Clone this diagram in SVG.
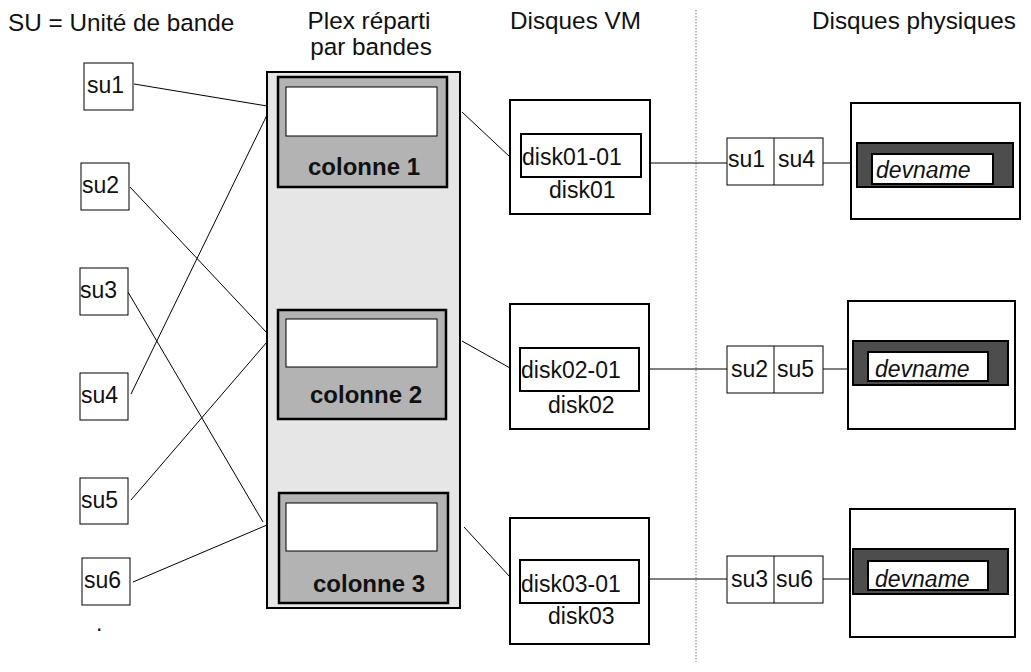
<svg xmlns="http://www.w3.org/2000/svg" width="1031" height="672" viewBox="0 0 1031 672">
<style>
text{font-family:"Liberation Sans",Arial,sans-serif;font-size:23px;fill:#111}
.t{font-size:24.3px}
.b{font-weight:bold;font-size:24px}
.i{font-style:italic}
.thin{fill:#fff;stroke:#000;stroke-width:1}
.thick{fill:#fff;stroke:#000;stroke-width:2}
.plex{fill:#e6e6e6;stroke:#000;stroke-width:2}
.col{fill:#b3b3b3;stroke:#000;stroke-width:2.5}
.dark{fill:#4d4d4d;stroke:#000;stroke-width:2}
.ln{stroke:#000;stroke-width:1;fill:none}
</style>
<g id="titles">
<text class="t" x="8" y="31">SU = Unité de bande</text>
<text class="t" x="369" y="29" text-anchor="middle">Plex réparti</text>
<text class="t" x="371" y="55" text-anchor="middle">par bandes</text>
<text class="t" x="510" y="29">Disques VM</text>
<text class="t" x="812" y="29">Disques physiques</text>
</g>
<line x1="696" y1="10" x2="696" y2="662" stroke="#777" stroke-width="1" stroke-dasharray="1.5,1.5"/>
<g id="connectors">
<line class="ln" x1="134" y1="84" x2="267" y2="106"/>
<line class="ln" x1="130" y1="187" x2="267" y2="333"/>
<line class="ln" x1="128" y1="292" x2="263" y2="522"/>
<line class="ln" x1="131" y1="394" x2="267" y2="115"/>
<line class="ln" x1="131" y1="500" x2="267" y2="342"/>
<line class="ln" x1="133" y1="582" x2="267" y2="525"/>
<line class="ln" x1="462" y1="112" x2="510" y2="157"/>
<line class="ln" x1="462" y1="341" x2="510" y2="368"/>
<line class="ln" x1="464" y1="527" x2="510" y2="577"/>
<line class="ln" x1="650" y1="163" x2="727" y2="163"/>
<line class="ln" x1="823" y1="163" x2="851" y2="163"/>
<line class="ln" x1="649" y1="369" x2="727" y2="369"/>
<line class="ln" x1="823" y1="369" x2="848" y2="369"/>
<line class="ln" x1="649" y1="579" x2="727" y2="579"/>
<line class="ln" x1="823" y1="579" x2="850" y2="579"/>
</g>
<g id="su1"><rect class="thin" x="84" y="63" width="49" height="47"/><text x="87" y="93">su1</text></g>
<g id="su2"><rect class="thin" x="81" y="163" width="48" height="47"/><text x="82" y="193">su2</text></g>
<g id="su3"><rect class="thin" x="80" y="268" width="48" height="47"/><text x="80" y="298">su3</text></g>
<g id="su4"><rect class="thin" x="80" y="373" width="48" height="47"/><text x="81" y="403">su4</text></g>
<g id="su5"><rect class="thin" x="80" y="478" width="48" height="46"/><text x="81" y="508">su5</text></g>
<g id="su6"><rect class="thin" x="82" y="558" width="48" height="47"/><text x="84" y="588">su6</text></g>
<text x="96" y="631">.</text>
<g id="plex">
<rect class="plex" x="267" y="72" width="193" height="536"/>
<g id="colonne1"><rect class="col" x="278" y="77" width="169" height="110"/><rect class="thin" x="286" y="87" width="151" height="49"/><text class="b" x="308" y="175">colonne 1</text></g>
<g id="colonne2"><rect class="col" x="278" y="310" width="168" height="109"/><rect class="thin" x="286" y="319" width="151" height="48"/><text class="b" x="310" y="403">colonne 2</text></g>
<g id="colonne3"><rect class="col" x="279" y="493" width="169" height="110"/><rect class="thin" x="286" y="503" width="151" height="48"/><text class="b" x="313" y="592">colonne 3</text></g>
</g>
<g id="disk01"><rect class="thick" x="510" y="100" width="140" height="114"/><rect class="thick" x="521" y="134" width="120" height="43"/><text x="522" y="165">disk01-01</text><text x="549" y="198">disk01</text></g>
<g id="disk02"><rect class="thick" x="510" y="304" width="139" height="125"/><rect class="thick" x="520" y="348" width="119" height="43"/><text x="521" y="378">disk02-01</text><text x="548" y="413">disk02</text></g>
<g id="disk03"><rect class="thick" x="510" y="518" width="139" height="126"/><rect class="thick" x="520" y="560" width="119" height="43"/><text x="521" y="592">disk03-01</text><text x="548" y="624">disk03</text></g>
<g id="supair1"><rect class="thin" x="727" y="138" width="96" height="47"/><line class="ln" x1="774" y1="138" x2="774" y2="185"/><text x="728" y="167">su1</text><text x="778" y="167">su4</text></g>
<g id="supair2"><rect class="thin" x="727" y="346" width="96" height="47"/><line class="ln" x1="774" y1="346" x2="774" y2="393"/><text x="731" y="377">su2</text><text x="777" y="377">su5</text></g>
<g id="supair3"><rect class="thin" x="727" y="556" width="96" height="47"/><line class="ln" x1="774" y1="556" x2="774" y2="603"/><text x="731" y="587">su3</text><text x="776" y="587">su6</text></g>
<g id="phys1"><rect class="thick" x="851" y="103" width="169" height="116"/><rect class="dark" x="857" y="143" width="156" height="44"/><rect class="thick" x="872" y="154" width="121" height="30"/><text class="i" x="876" y="178">devname</text></g>
<g id="phys2"><rect class="thick" x="848" y="301" width="167" height="128"/><rect class="dark" x="853" y="341" width="155" height="44"/><rect class="thick" x="868" y="352" width="120" height="29"/><text class="i" x="875" y="377">devname</text></g>
<g id="phys3"><rect class="thick" x="850" y="509" width="165" height="128"/><rect class="dark" x="853" y="549" width="155" height="45"/><rect class="thick" x="868" y="561" width="120" height="29"/><text class="i" x="875" y="587">devname</text></g>
</svg>
